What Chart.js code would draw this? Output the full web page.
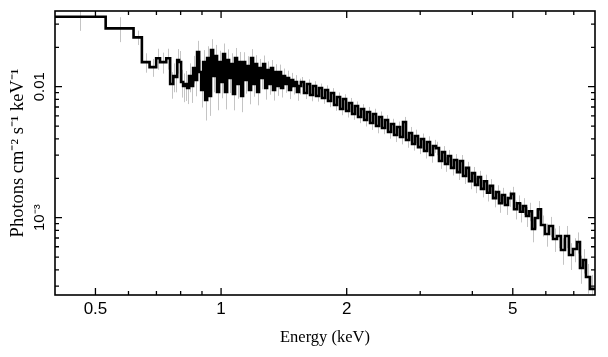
<!DOCTYPE html>
<html><head><meta charset="utf-8">
<script src="https://cdn.jsdelivr.net/npm/chart.js@4/dist/chart.umd.min.js"></script>
<style>html,body{margin:0;padding:0;background:#fff}</style>
</head><body>
<canvas id="c" width="608" height="357" style="display:block;width:608px;height:357px"></canvas>
<script>
// Bin edges (keV): one more than the number of bins
const binEdges = [
  0.400, 0.529, 0.617, 0.646, 0.674, 0.699, 0.714, 0.739, 0.755,
  0.768, 0.776, 0.785, 0.793, 0.802, 0.811, 0.820, 0.829, 0.838, 0.848, 0.857, 0.867, 0.876, 0.886, 0.896, 0.906,
  0.916, 0.926, 0.936, 0.946, 0.957, 0.968, 0.978, 0.989, 1.000, 1.011, 1.022, 1.034, 1.045, 1.057, 1.068, 1.080,
  1.092, 1.104, 1.117, 1.129, 1.142, 1.154, 1.167, 1.180, 1.193, 1.206, 1.220, 1.233, 1.247, 1.261, 1.275, 1.289,
  1.303, 1.317, 1.332, 1.347, 1.362, 1.377, 1.392, 1.408, 1.423, 1.439, 1.455, 1.471, 1.487, 1.504, 1.520, 1.537,
  1.554, 1.580, 1.607, 1.634, 1.661, 1.689, 1.717, 1.745, 1.775, 1.804, 1.834, 1.865, 1.896, 1.928, 1.960, 1.993,
  2.026, 2.060, 2.094, 2.129, 2.165, 2.201, 2.237, 2.275, 2.313, 2.351, 2.391, 2.430, 2.471, 2.512, 2.554, 2.597,
  2.640, 2.684, 2.729, 2.774, 2.821, 2.868, 2.915, 2.964, 3.014, 3.064, 3.115, 3.167, 3.220, 3.273, 3.328, 3.384,
  3.440, 3.497, 3.556, 3.615, 3.676, 3.737, 3.799, 3.863, 3.927, 3.993, 4.059, 4.127, 4.196, 4.266, 4.337, 4.409,
  4.483, 4.558, 4.634, 4.711, 4.790, 4.870, 4.951, 5.034, 5.118, 5.203, 5.290, 5.378, 5.468, 5.559, 5.652, 5.746,
  5.842, 5.972, 6.106, 6.242, 6.381, 6.523, 6.669, 6.818, 6.970, 7.125, 7.244, 7.365, 7.488, 7.655,
  7.869
];

// Unfolded flux per bin (photons cm^-2 s^-1 keV^-1)
const flux = [
  0.0342, 0.0279, 0.0238, 0.0154, 0.0141, 0.0165, 0.0154, 0.0165, 0.0105,
  0.01207, 0.01186, 0.01599, 0.01543, 0.01086, 0.01012, 0.01049, 0.00977, 0.01207, 0.01012, 0.01389, 0.01125,
  0.01840, 0.01295, 0.00944, 0.01543, 0.00792, 0.01656, 0.00849, 0.01906, 0.01207, 0.01716, 0.00911, 0.01543,
  0.01086, 0.01777, 0.00911, 0.01599, 0.01165, 0.01490, 0.00880, 0.01656, 0.01049, 0.01543, 0.00849, 0.01543,
  0.01125, 0.01439, 0.00944, 0.01656, 0.01049, 0.01490, 0.00911, 0.01389, 0.01165, 0.01490, 0.00977, 0.01341,
  0.01049, 0.01389, 0.00944, 0.01295, 0.01012, 0.01295, 0.00977, 0.01207, 0.01049, 0.01165, 0.00944, 0.01125,
  0.01012, 0.01086, 0.00911, 0.01012,
  0.01086, 0.00895, 0.01049, 0.00864, 0.01012, 0.00849, 0.00977, 0.00820, 0.00944, 0.00778, 0.00895, 0.00725,
  0.00834, 0.00676, 0.00806, 0.00652, 0.00751, 0.00619, 0.00712, 0.00587, 0.00676, 0.00557, 0.00641, 0.00528,
  0.00619, 0.00501, 0.00587, 0.00484, 0.00557, 0.00451, 0.00519, 0.00428, 0.00492, 0.00413, 0.00538, 0.00392,
  0.00443, 0.00365, 0.00420, 0.00346, 0.00399, 0.00323, 0.00378, 0.00301, 0.00353, 0.00340, 0.00271, 0.00317,
  0.00257, 0.00296, 0.00240, 0.00276, 0.00223, 0.00271, 0.00208, 0.00240, 0.00190, 0.00219, 0.00178, 0.00204,
  0.00166, 0.00190, 0.00155, 0.00175, 0.00141, 0.00157, 0.00129, 0.00149, 0.00125, 0.00141, 0.00152, 0.00116,
  0.00129, 0.00111, 0.00123, 0.00103, 0.00112, 0.000819, 0.000995, 0.00116,
  0.000879, 0.000751, 0.000864, 0.000688, 0.000725, 0.000567, 0.000725, 0.000519, 0.000577, 0.000652,
  0.000413, 0.000475, 0.000353, 0.000286
];

// 1-sigma flux errors per bin
const fluxErr = [
  0.0075, 0.0060, 0.0030, 0.0026, 0.0022, 0.0030, 0.0028, 0.0030, 0.0024,
  0.0030, 0.0028, 0.0034, 0.0033, 0.0026, 0.0025, 0.0027, 0.0024, 0.0030, 0.0026, 0.0033, 0.0028, 0.0040, 0.0031, 0.0025,
  0.0036, 0.0024, 0.0038, 0.0025, 0.0040, 0.0030, 0.0037, 0.0025, 0.0034, 0.0027, 0.0036, 0.0024, 0.0033, 0.0027, 0.0031,
  0.0022, 0.0032, 0.0024, 0.0030, 0.0021, 0.0029, 0.0024, 0.0027, 0.0021, 0.0028, 0.0021, 0.0025, 0.0019, 0.0024, 0.0021,
  0.0024, 0.0018, 0.0022, 0.0018, 0.0021,
  0.0016, 0.0019, 0.0016, 0.0018, 0.0015, 0.0017, 0.0015, 0.0016, 0.0014, 0.0015, 0.0014, 0.0014, 0.0013, 0.0014,
  0.0010, 0.0009, 0.0009, 0.0009, 0.0009, 0.0008, 0.0008, 0.0008, 0.0008, 0.0008, 0.0008, 0.0007,
  0.0007, 0.0007, 0.0007, 0.0007, 0.0007, 0.0006, 0.0006, 0.0006, 0.0006, 0.0006, 0.0006, 0.0006,
  0.0006, 0.0006, 0.0006, 0.0005, 0.0005, 0.0005, 0.0005, 0.0005, 0.0005, 0.0005, 0.0005, 0.0005, 0.0005, 0.0004, 0.0005, 0.0004,
  0.0004, 0.0004, 0.0004, 0.00038, 0.0004, 0.0004, 0.00035, 0.00035, 0.00033, 0.00033, 0.0003, 0.0003, 0.00029, 0.0003,
  0.00027, 0.00027, 0.00025, 0.00025, 0.00024, 0.00024,
  0.00023, 0.00023, 0.00022, 0.00022, 0.00021, 0.0002, 0.0002, 0.0002, 0.0002, 0.0002, 0.0002, 0.00019, 0.00019, 0.00019,
  0.00018, 0.00018, 0.00018, 0.00017, 0.00017, 0.00018,
  0.00016, 0.00015, 0.00015, 0.00014, 0.00014, 0.00013, 0.00014, 0.00012, 0.00012, 0.00012, 0.0001, 0.0001, 0.00009, 0.00008
];

const xRange = [0.4, 7.87];
const yRange = [2.57e-4, 0.03785];
const xTickValues = [0.5, 1, 2, 5];
const xTickLabels = ['0.5', '1', '2', '5'];
const xMinorTicks = [0.6, 0.7, 0.8, 0.9, 3, 4, 6, 7];
const yTickValues = [0.001, 0.01];
const yTickLabels = ['10\u207B\u00B3', '0.01'];
const yMinorTicks = [3e-4, 4e-4, 5e-4, 6e-4, 7e-4, 8e-4, 9e-4, 0.002, 0.003, 0.004, 0.005, 0.006, 0.007, 0.008, 0.009, 0.02, 0.03];
const xTitle = 'Energy (keV)';
const yTitle = 'Photons cm\u207B\u00B2 s\u207B\u00B9 keV\u207B\u00B9';

// Step histogram points: each bin's lower edge with its value, plus the final upper edge
const stepPoints = flux.map((v, i) => ({x: binEdges[i], y: v}));
stepPoints.push({x: binEdges[binEdges.length - 1], y: flux[flux.length - 1]});

const errorBars = {
  id: 'errorBars',
  beforeDatasetsDraw(chart) {
    const {ctx, chartArea: a, scales: {x, y}} = chart;
    ctx.save();
    ctx.beginPath(); ctx.rect(a.left, a.top, a.right - a.left, a.bottom - a.top); ctx.clip();
    ctx.strokeStyle = '#c4c4c4';
    ctx.lineWidth = 1;
    flux.forEach((v, i) => {
      const xc = Math.sqrt(binEdges[i] * binEdges[i + 1]);
      const px = Math.round(x.getPixelForValue(xc)) + 0.5;
      const lo = Math.max(v - fluxErr[i], yRange[0] * 0.5);
      ctx.beginPath();
      ctx.moveTo(px, y.getPixelForValue(v + fluxErr[i]));
      ctx.lineTo(px, y.getPixelForValue(lo));
      ctx.stroke();
    });
    ctx.restore();
  }
};

const frameTicks = {
  id: 'frameTicks',
  afterDraw(chart) {
    const {ctx, chartArea: a, scales: {x, y}} = chart;
    ctx.save();
    ctx.strokeStyle = '#000';
    ctx.lineWidth = 1.6;
    ctx.strokeRect(a.left, a.top, a.right - a.left, a.bottom - a.top);
    ctx.lineWidth = 1.3;
    const vt = (v, len) => {
      const p = x.getPixelForValue(v);
      ctx.beginPath();
      ctx.moveTo(p, a.bottom); ctx.lineTo(p, a.bottom - len);
      ctx.moveTo(p, a.top); ctx.lineTo(p, a.top + len);
      ctx.stroke();
    };
    const ht = (v, len) => {
      const p = y.getPixelForValue(v);
      ctx.beginPath();
      ctx.moveTo(a.left, p); ctx.lineTo(a.left + len, p);
      ctx.moveTo(a.right, p); ctx.lineTo(a.right - len, p);
      ctx.stroke();
    };
    xTickValues.forEach(v => vt(v, 7));
    xMinorTicks.forEach(v => vt(v, 4));
    yTickValues.forEach(v => ht(v, 7));
    yMinorTicks.forEach(v => ht(v, 4));
    ctx.restore();
  }
};

new Chart(document.getElementById('c'), {
  type: 'line',
  data: {
    datasets: [{
      data: stepPoints,
      stepped: 'before',
      borderColor: '#000',
      borderWidth: 2.6,
      pointRadius: 0,
      fill: false,
      tension: 0
    }]
  },
  options: {
    responsive: false,
    animation: false,
    devicePixelRatio: 1,
    layout: {padding: {top: 11, right: 13, left: 0, bottom: 0}},
    plugins: {legend: {display: false}, tooltip: {enabled: false}},
    scales: {
      x: {
        type: 'logarithmic',
        position: 'bottom',
        min: xRange[0], max: xRange[1],
        bounds: 'data',
        afterBuildTicks: s => { s.ticks = xTickValues.map(v => ({value: v})); },
        afterFit: s => { s.height = 62; },
        grid: {display: false, drawTicks: false},
        border: {display: false},
        ticks: {
          autoSkip: false, maxRotation: 0, minRotation: 0, padding: 4,
          color: '#000',
          font: {family: 'Liberation Sans', size: 17},
          callback: v => { const i = xTickValues.indexOf(v); return i >= 0 ? xTickLabels[i] : ''; }
        },
        title: {display: true, text: xTitle, color: '#000',
          font: {family: 'Liberation Serif', size: 16.5}, padding: {top: 0, bottom: 9}}
      },
      y: {
        type: 'logarithmic',
        position: 'left',
        min: yRange[0], max: yRange[1],
        bounds: 'data',
        afterBuildTicks: s => { s.ticks = yTickValues.map(v => ({value: v})); },
        afterFit: s => { s.width = 55; },
        grid: {display: false, drawTicks: false},
        border: {display: false},
        ticks: {
          autoSkip: false, minRotation: 90, maxRotation: 90, crossAlign: 'center', padding: 0.5,
          color: '#000',
          font: {family: 'Liberation Sans', size: 15},
          callback: v => { const i = yTickValues.indexOf(v); return i >= 0 ? yTickLabels[i] : ''; }
        },
        title: {display: true, text: yTitle, color: '#000',
          font: {family: 'Liberation Serif', size: 18.5}, padding: {top: 7, bottom: 0}}
      }
    }
  },
  plugins: [errorBars, frameTicks]
});
</script>
</body></html>
